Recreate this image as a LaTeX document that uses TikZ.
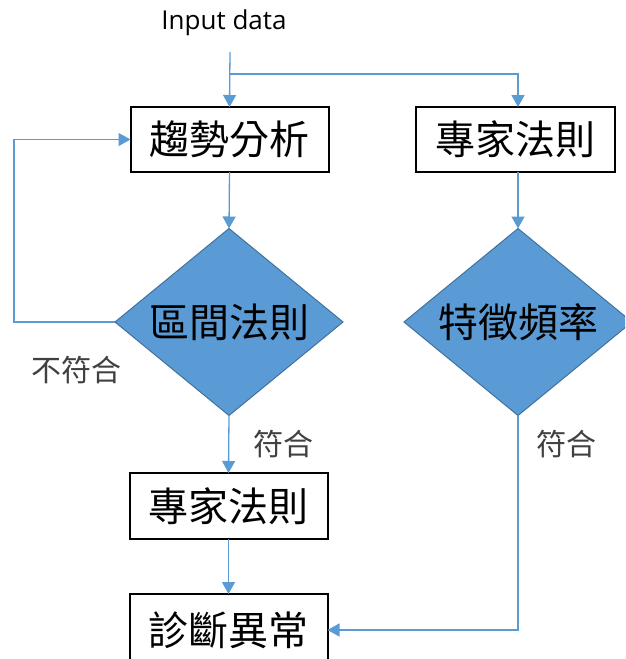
\documentclass[tikz,border=0pt]{standalone}
\usepackage{fontspec}
\setmainfont{Open Sans}
\newfontfamily\cjk{Noto Sans CJK TC}
\usetikzlibrary{arrows.meta,shapes.geometric}
\definecolor{lineblue}{HTML}{5B9BD5}
\definecolor{fillblue}{HTML}{5B9BD5}
\definecolor{edgeblue}{HTML}{41719C}
\definecolor{labgray}{HTML}{404040}
\tikzset{
  box/.style={draw=black, line width=2pt, fill=white, minimum width=198pt, minimum height=65pt,
    inner sep=0pt, outer sep=0pt, font=\cjk\fontsize{40}{42}\selectfont},
  decide/.style={diamond, draw=edgeblue, line width=1pt, fill=fillblue, aspect=1.22,
    minimum width=228pt, minimum height=187pt, inner sep=0pt, outer sep=0pt,
    font=\cjk\fontsize{40}{42}\selectfont},
  conn/.style={draw=lineblue, line width=1.3pt, -{Triangle[width=13pt,length=12pt]}},
  lab/.style={text=labgray, font=\cjk\fontsize{30}{32}\selectfont, inner sep=0pt},
}
\begin{document}
\begin{tikzpicture}[x=1pt,y=-1pt]
\useasboundingbox (0,0) rectangle (625,659);
\clip (0,0) rectangle (625,659);
\node[font=\fontsize{26}{30}\selectfont, inner sep=0pt] (title) at (224,23) {Input data};
\coordinate (in) at (230,52);
\coordinate (split) at (230,74);
\coordinate (lp) at (14,0);
\node[box] (b1) at (229.5,139.5) {趨勢分析};
\node[box, minimum width=199pt] (b2) at (515.5,139.5) {專家法則};
\node[decide] (d1) at (229,322) {區間法則};
\node[decide] (d2) at (518,322) {特徵頻率};
\node[box, minimum height=66pt] (b3) at (228.5,506) {專家法則};
\node[box, minimum height=72pt] (b4) at (228.5,630) {診斷異常};
\node[lab] (l1) at (76,370) {不符合};
\node[lab] (l2) at (283,444) {符合};
\node[lab] (l3) at (566,444) {符合};
\draw[conn] (in) -- (b1.north);
\draw[conn] (split) -| (b2.north -| d2.north);
\draw[conn] (b1.south) -- (d1.north);
\draw[conn] (b2.south -| d2.north) -- (d2.north);
\draw[conn] (d1.west) -- (d1.west -| lp) |- (b1.west);
\draw[conn] (d1.south) -- (b3.north);
\draw[conn] (b3.south) -- (b4.north);
\draw[conn] (d2.south) |- (b4.east);
\end{tikzpicture}
\end{document}
